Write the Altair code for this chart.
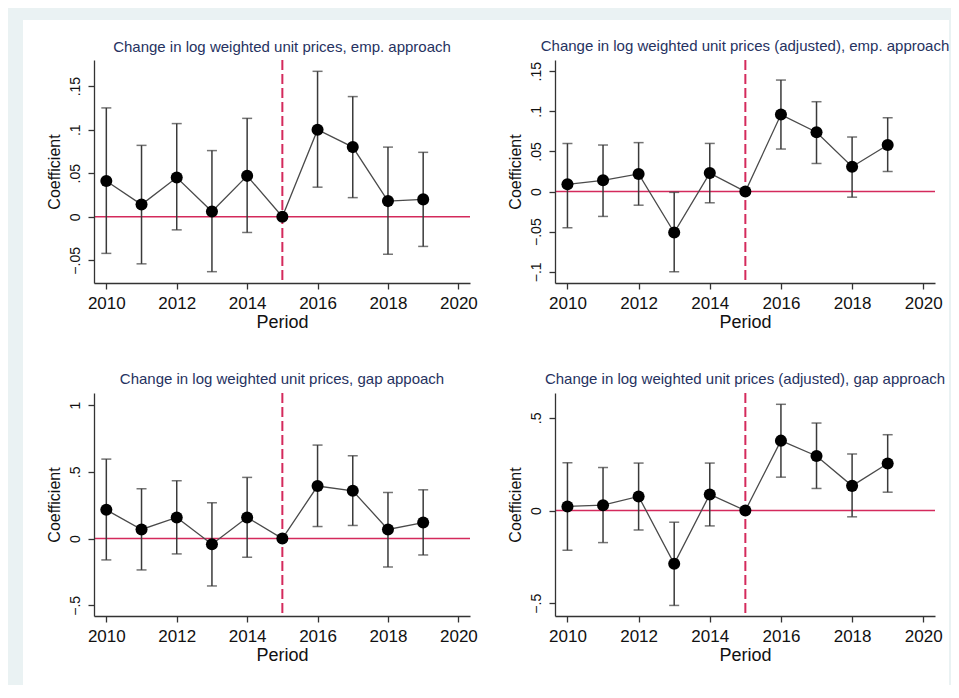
import altair as alt
import pandas as pd

years = [2010, 2011, 2012, 2013, 2014, 2015, 2016, 2017, 2018, 2019]
x_ticks = [2010, 2012, 2014, 2016, 2018, 2020]
x_domain = [2009.65, 2020.33]
ref_year = [2015]
zero_line = [0]

titles = [
    "Change in log weighted unit prices, emp. approach",
    "Change in log weighted unit prices (adjusted), emp. approach",
    "Change in log weighted unit prices, gap appoach",
    "Change in log weighted unit prices (adjusted), gap approach",
]

p1_coef = [0.041, 0.014, 0.045, 0.006, 0.047, 0.0, 0.100, 0.080, 0.018, 0.020]
p1_lo = [-0.042, -0.054, -0.015, -0.063, -0.018, 0.0, 0.034, 0.022, -0.043, -0.034]
p1_hi = [0.125, 0.082, 0.107, 0.076, 0.113, 0.0, 0.167, 0.138, 0.080, 0.074]

p2_coef = [0.009, 0.014, 0.022, -0.051, 0.023, 0.0, 0.096, 0.074, 0.031, 0.058]
p2_lo = [-0.045, -0.031, -0.017, -0.100, -0.014, 0.0, 0.053, 0.035, -0.007, 0.025]
p2_hi = [0.060, 0.058, 0.061, -0.001, 0.060, 0.0, 0.139, 0.112, 0.068, 0.092]

p3_coef = [0.215, 0.068, 0.158, -0.043, 0.158, 0.0, 0.393, 0.358, 0.068, 0.120]
p3_lo = [-0.160, -0.235, -0.115, -0.355, -0.140, 0.0, 0.090, 0.098, -0.213, -0.123]
p3_hi = [0.595, 0.373, 0.433, 0.268, 0.458, 0.0, 0.700, 0.620, 0.345, 0.365]

p4_coef = [0.022, 0.029, 0.076, -0.287, 0.087, 0.0, 0.377, 0.294, 0.133, 0.254]
p4_lo = [-0.214, -0.173, -0.105, -0.512, -0.083, 0.0, 0.180, 0.119, -0.034, 0.099]
p4_hi = [0.258, 0.232, 0.256, -0.063, 0.256, 0.0, 0.573, 0.472, 0.305, 0.409]

y_domains = [[-0.076, 0.18], [-0.114, 0.164], [-0.58, 1.09], [-0.569, 0.634]]
y_ticks = [
    [-0.05, 0, 0.05, 0.1, 0.15],
    [-0.1, -0.05, 0, 0.05, 0.1, 0.15],
    [-0.5, 0, 0.5, 1],
    [-0.5, 0, 0.5],
]
widths = [376, 380, 376, 380]
HEIGHT = 223

RED = "#d42a5c"
BAR = "#3a3a3a"
LINE = "#4a4a4a"
TITLE_COLOR = "#26325f"
FRAME_BG = "#eaf2f3"

label_expr = "datum.value == 0 ? '0' : replace(format(datum.value, '~g'), '0.', '.')"


def make_panel(i, coef, lo, hi):
    df = pd.DataFrame({"year": years, "coef": coef, "lo": lo, "hi": hi})
    xscale = alt.Scale(domain=x_domain, nice=False, zero=False)
    yscale = alt.Scale(domain=y_domains[i], nice=False, zero=False)
    xaxis = alt.Axis(values=x_ticks, format="d", zindex=1)
    yaxis = alt.Axis(values=y_ticks[i], labelExpr=label_expr, zindex=1)

    def X(field):
        return alt.X(field, scale=xscale, axis=xaxis, title="Period")

    def Y(field):
        return alt.Y(field, scale=yscale, axis=yaxis, title="Coefficient")

    base = alt.Chart(df)
    zero = alt.Chart(pd.DataFrame({"v": zero_line})).mark_rule(
        color=RED, strokeWidth=1.6
    ).encode(y=Y("v:Q"))
    vline = alt.Chart(pd.DataFrame({"v": ref_year})).mark_rule(
        color=RED, strokeWidth=2, strokeDash=[10, 4]
    ).encode(x=X("v:Q"))
    bars = base.transform_filter("datum.lo != datum.hi").mark_rule(
        color=BAR, strokeWidth=1.5
    ).encode(x=X("year:Q"), y=Y("lo:Q"), y2="hi:Q")
    caps = base.transform_filter("datum.lo != datum.hi").transform_fold(
        ["lo", "hi"], as_=["k", "val"]
    ).mark_tick(color=BAR, orient="horizontal", size=10, thickness=1.5).encode(
        x=X("year:Q"), y=Y("val:Q")
    )
    line = base.mark_line(color=LINE, strokeWidth=1.3).encode(
        x=X("year:Q"), y=Y("coef:Q")
    )
    pts = base.mark_circle(color="black", opacity=1, size=145).encode(
        x=X("year:Q"), y=Y("coef:Q")
    )
    layers = [zero, vline, bars, caps, line, pts]
    title = alt.TitleParams(text=titles[i])
    if i == 0:
        # white inner region of the graph (decoration, not data)
        bg = alt.Chart(pd.DataFrame({"a": [0]})).mark_rect(color="white").encode(
            x=alt.value(-71), x2=alt.value(855), y=alt.value(-40), y2=alt.value(625)
        )
        layers = [bg] + layers
        title = alt.TitleParams(text=titles[i], dy=40)
    return alt.layer(*layers).properties(
        width=widths[i],
        height=HEIGHT,
        title=title,
    )


panels = [
    make_panel(0, p1_coef, p1_lo, p1_hi),
    make_panel(1, p2_coef, p2_lo, p2_hi),
    make_panel(2, p3_coef, p3_lo, p3_hi),
    make_panel(3, p4_coef, p4_lo, p4_hi),
]

chart = alt.concat(
    *panels, columns=2, spacing={"row": 110, "column": 85}, bounds="flush"
).configure(
    background=FRAME_BG,
    padding={"left": 15, "top": 12, "right": 1, "bottom": 0},
    font="Liberation Sans",
).configure_view(
    strokeOpacity=0
).configure_axis(
    grid=False,
    domainColor="#333333",
    tickColor="#333333",
    domainWidth=1.3,
    tickWidth=1.3,
    tickSize=6,
    labelColor="#111111",
    titleColor="#111111",
    labelFont="Liberation Sans",
    titleFont="Liberation Sans",
    titleFontWeight="normal",
).configure_axisX(
    labelFontSize=17,
    titleFontSize=18,
    labelPadding=6,
    titlePadding=2,
    labelFlush=False,
).configure_axisY(
    labelFontSize=14,
    titleFontSize=16,
    labelAngle=270,
    labelAlign="center",
    labelBaseline="bottom",
    labelPadding=6,
    titlePadding=6,
).configure_title(
    font="Liberation Sans",
    fontSize=15,
    fontWeight="normal",
    color=TITLE_COLOR,
    anchor="middle",
    baseline="alphabetic",
    offset=5,
)

chart.save("out.html", embed_options={"renderer": "svg", "actions": False})
